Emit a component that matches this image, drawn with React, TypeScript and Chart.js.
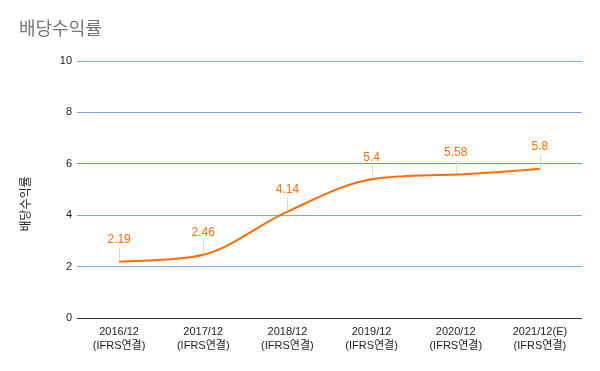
import React, { useEffect, useRef } from "react";
import { Chart, registerables } from "chart.js";

Chart.register(...registerables);

const categories: string[][] = [
  ["2016/12", "(IFRS연결)"],
  ["2017/12", "(IFRS연결)"],
  ["2018/12", "(IFRS연결)"],
  ["2019/12", "(IFRS연결)"],
  ["2020/12", "(IFRS연결)"],
  ["2021/12(E)", "(IFRS연결)"],
];
const dividendYield: number[] = [2.19, 2.46, 4.14, 5.4, 5.58, 5.8];
const valueLabels: string[] = ["2.19", "2.46", "4.14", "5.4", "5.58", "5.8"];
const chartTitle = "배당수익률";
const yAxisTitle = "배당수익률";

const FONT = "Arial, 'Liberation Sans', 'Noto Sans CJK KR', sans-serif";
const ORANGE = "#ff6d01";

export default function App() {
  const ref = useRef<HTMLCanvasElement>(null);

  useEffect(() => {
    document.body.style.margin = "0";
    const canvas = ref.current!;
    const extras = {
      id: "extras",
      afterDraw(chart: any) {
        const ctx = chart.ctx;
        ctx.save();
        // title
        ctx.fillStyle = "#757575";
        ctx.font = `18px ${FONT}`;
        ctx.textAlign = "left";
        ctx.textBaseline = "middle";
        ctx.fillText(chartTitle, 19, 30);
        // y axis title
        ctx.translate(27, 204);
        ctx.rotate(-Math.PI / 2);
        ctx.fillStyle = "#222";
        ctx.font = `12px ${FONT}`;
        ctx.textAlign = "center";
        ctx.textBaseline = "middle";
        ctx.fillText(yAxisTitle, 0, 0);
        ctx.restore();

        // data labels with leader lines
        const meta = chart.getDatasetMeta(0);
        ctx.save();
        meta.data.forEach((pt: any, i: number) => {
          const x = Math.round(pt.x) + 0.5;
          const y = pt.y;
          ctx.strokeStyle = "#d9d9d9";
          ctx.lineWidth = 1;
          ctx.beginPath();
          ctx.moveTo(x, y - 1);
          ctx.lineTo(x, y - 14);
          ctx.stroke();
          ctx.fillStyle = ORANGE;
          ctx.font = `12px ${FONT}`;
          ctx.textAlign = "center";
          ctx.textBaseline = "middle";
          ctx.fillText(valueLabels[i], pt.x, y - 22);
        });
        ctx.restore();
      },
    };

    const chart = new Chart(canvas, {
      type: "line",
      data: {
        labels: categories,
        datasets: [
          {
            data: dividendYield,
            borderColor: ORANGE,
            borderWidth: 2,
            pointRadius: 0,
            cubicInterpolationMode: "monotone",
            fill: false,
          },
        ],
      },
      options: {
        animation: false,
        responsive: false,
        maintainAspectRatio: false,
        layout: { padding: { left: 0, right: 18, top: 61, bottom: 0 } },
        plugins: { legend: { display: false }, title: { display: false }, tooltip: { enabled: false } },
        scales: {
          x: {
            offset: true,
            grid: { display: false, drawTicks: false },
            border: { display: false },
            ticks: {
              color: "#222",
              font: { size: 11, family: FONT, lineHeight: 1.25 },
              padding: 7,
              maxRotation: 0,
              autoSkip: false,
            },
            afterFit(scale: any) {
              scale.height = 53;
            },
          },
          y: {
            min: 0,
            max: 10,
            ticks: {
              stepSize: 2,
              color: "#222",
              font: { size: 11, family: FONT },
              padding: 5,
            },
            grid: {
              drawTicks: false,
              color: (c: any) =>
                c.tick && c.tick.value === 0 ? "#333333" : c.tick && c.tick.value === 6 ? "#5e9cf0" : "#7fa6e2",
              lineWidth: 1,
            },
            border: { display: false },
            afterFit(scale: any) {
              scale.width = 77;
            },
          },
        },
      },
      plugins: [extras],
    });
    return () => chart.destroy();
  }, []);

  return (
    <div style={{ position: "absolute", left: 0, top: 0, width: 600, height: 371, background: "#fff" }}>
      <canvas ref={ref} width={600} height={371} style={{ width: 600, height: 371 }} />
    </div>
  );
}
